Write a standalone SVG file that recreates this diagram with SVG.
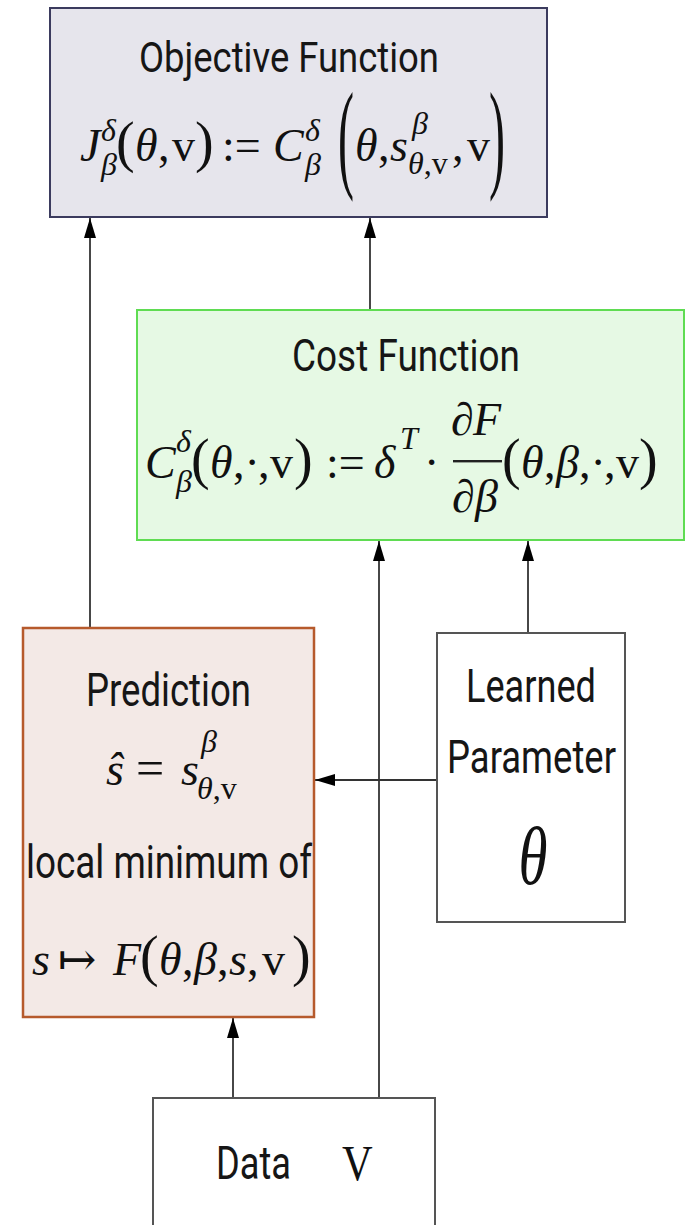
<svg xmlns="http://www.w3.org/2000/svg" width="692" height="1225" viewBox="0 0 692 1225">
<style>
.lbl{font-family:Roboto,"Liberation Sans",sans-serif;fill:#161616}
.m{font-family:"Liberation Serif","DejaVu Serif",serif;fill:#111;font-size:46px}
.i{font-style:italic}
.s{font-size:32px}
.p{font-size:56px}
.edge{stroke:#333;stroke-width:1.8;fill:none;marker-end:url(#ah)}
</style>
<defs>
<marker id="ah" viewBox="0 0 20 12" refX="20" refY="6" markerWidth="20" markerHeight="12" markerUnits="userSpaceOnUse" orient="auto">
<path d="M0,0 L20,6 L0,12 z" fill="#000"/>
</marker>
</defs>
<rect width="692" height="1225" fill="#fff"/>

<g id="connectors">
<line class="edge" x1="90" y1="628" x2="90" y2="218"/>
<line class="edge" x1="370" y1="310" x2="370" y2="218"/>
<line class="edge" x1="379" y1="1098" x2="379" y2="541"/>
<line class="edge" x1="528" y1="633" x2="528" y2="541"/>
<line class="edge" x1="233" y1="1098" x2="233" y2="1018"/>
<line class="edge" x1="437" y1="780" x2="315" y2="780"/>
</g>

<g id="objective">
<rect x="50" y="8" width="497" height="209" fill="#e6e5ec" stroke="#3b3b5e" stroke-width="2"/>
<text class="lbl" x="139" y="72" font-size="42" textLength="300" lengthAdjust="spacingAndGlyphs">Objective Function</text>
<text class="m"><tspan class="i" x="80" y="161">J</tspan><tspan class="i s" x="101" y="141">δ</tspan><tspan class="i s" x="101" y="175">β</tspan><tspan class="p" x="116" y="161">(</tspan><tspan class="i" x="135" y="161">θ</tspan><tspan x="158" y="161">,</tspan><tspan x="172" y="161">v</tspan><tspan class="p" x="195" y="161">)</tspan><tspan x="222" y="161">:=</tspan><tspan class="i" x="273" y="161">C</tspan><tspan class="i s" x="305" y="141">δ</tspan><tspan class="i s" x="305" y="175">β</tspan><tspan class="i" x="355" y="161">θ</tspan><tspan x="378" y="161">,</tspan><tspan class="i" x="390" y="161">s</tspan><tspan class="i s" x="412" y="134">β</tspan><tspan class="i s" x="408" y="174">θ</tspan><tspan class="s" y="174">,v</tspan><tspan x="452" y="161">,</tspan><tspan x="467" y="161">v</tspan></text>
<text class="m" transform="translate(338,176) scale(0.4,1)" style="font-size:120px">(</text>
<text class="m" transform="translate(489,176) scale(0.4,1)" style="font-size:120px">)</text>
</g>

<g id="cost">
<rect x="137" y="310" width="547" height="230" fill="#e6f9e4" stroke="#5fdc52" stroke-width="2"/>
<text class="lbl" x="292" y="371" font-size="44" textLength="228" lengthAdjust="spacingAndGlyphs">Cost Function</text>
<text class="m"><tspan class="i" x="145" y="478">C</tspan><tspan class="i s" x="176" y="452">δ</tspan><tspan class="i s" x="176" y="492">β</tspan><tspan class="p" x="191" y="478">(</tspan><tspan class="i" x="210" y="478">θ</tspan><tspan x="233" y="478">,</tspan><tspan x="244.5" y="478">·</tspan><tspan x="258" y="478">,</tspan><tspan x="270" y="478">v</tspan><tspan class="p" x="294" y="478">)</tspan><tspan x="326" y="478">:=</tspan><tspan class="i" x="374" y="478">δ</tspan><tspan class="i s" x="400" y="449">T</tspan><tspan x="424" y="478">·</tspan><tspan x="451" y="435">∂</tspan><tspan class="i" x="473" y="435">F</tspan><tspan x="452" y="512">∂</tspan><tspan class="i" x="475" y="512">β</tspan><tspan class="p" x="502" y="478">(</tspan><tspan class="i" x="521" y="478">θ</tspan><tspan x="544" y="478">,</tspan><tspan class="i" x="556" y="478">β</tspan><tspan x="579" y="478">,</tspan><tspan x="590.5" y="478">·</tspan><tspan x="604" y="478">,</tspan><tspan x="616" y="478">v</tspan><tspan class="p" x="639" y="478">)</tspan></text>
<rect x="453" y="460" width="49" height="2.4" fill="#222"/>
</g>

<g id="prediction">
<rect x="23" y="628" width="291" height="389" fill="#f3e9e6" stroke="#b65a2c" stroke-width="2.5"/>
<text class="lbl" x="86" y="706" font-size="46" textLength="165" lengthAdjust="spacingAndGlyphs">Prediction</text>
<text class="m"><tspan class="i" x="106" y="785">ŝ</tspan><tspan x="136" y="785" style="font-size:50px">=</tspan><tspan class="i" x="181" y="785">s</tspan><tspan class="i s" x="201" y="752">β</tspan><tspan class="i s" x="197" y="799">θ</tspan><tspan class="s" y="799">,v</tspan></text>
<text class="lbl" x="26" y="878" font-size="46" textLength="286" lengthAdjust="spacingAndGlyphs">local minimum of</text>
<text class="m"><tspan class="i" x="32" y="975">s</tspan><tspan x="58" y="975">↦</tspan><tspan class="i" x="113" y="975">F</tspan><tspan class="p" x="140" y="975">(</tspan><tspan class="i" x="159" y="975">θ</tspan><tspan x="182" y="975">,</tspan><tspan class="i" x="194" y="975">β</tspan><tspan x="217" y="975">,</tspan><tspan class="i" x="229" y="975">s</tspan><tspan x="247" y="975">,</tspan><tspan x="262" y="975">v</tspan><tspan class="p" x="292" y="975">)</tspan></text>
</g>

<g id="learned">
<rect x="437" y="633" width="188" height="289" fill="#fff" stroke="#555" stroke-width="2"/>
<text class="lbl" x="466" y="702" font-size="46" textLength="130" lengthAdjust="spacingAndGlyphs">Learned</text>
<text class="lbl" x="447" y="773" font-size="46" textLength="169" lengthAdjust="spacingAndGlyphs">Parameter</text>
<text class="m i" text-anchor="middle" transform="translate(533,884) scale(0.72,1)" style="font-size:82px">θ</text>
</g>

<g id="data">
<rect x="153" y="1098" width="282" height="200" fill="#fff" stroke="#555" stroke-width="2"/>
<text class="lbl" x="216" y="1179" font-size="46" textLength="75" lengthAdjust="spacingAndGlyphs">Data</text>
<text class="m" transform="translate(342,1180) scale(0.85,1)" style="font-size:50px">V</text>
</g>
</svg>
